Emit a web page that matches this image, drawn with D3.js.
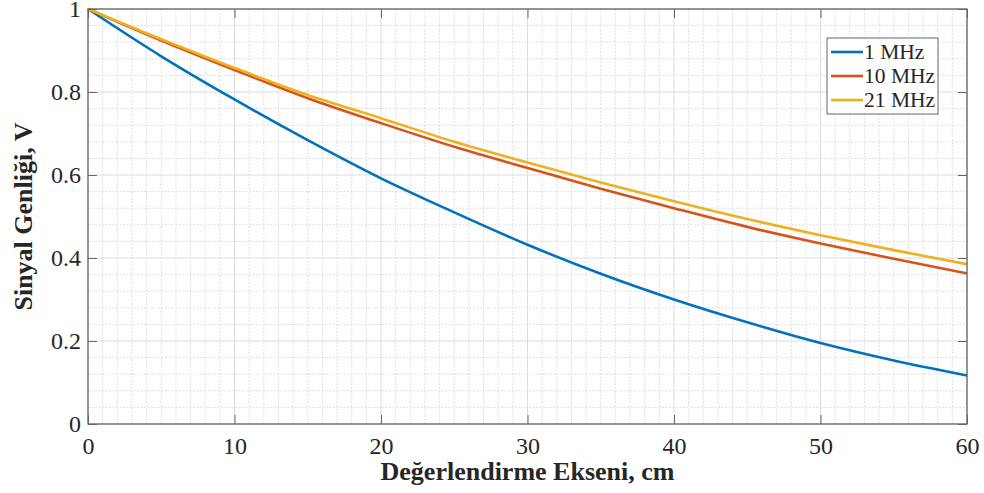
<!DOCTYPE html>
<html>
<head>
<meta charset="utf-8">
<script src="https://cdn.jsdelivr.net/npm/d3@7"></script>
<style>
  body { margin: 0; background: #fff; }
  svg text { font-family: "Liberation Serif", "Times New Roman", serif; fill: #262626; }
</style>
</head>
<body>
<div id="chart"></div>
<script>
// distance along the axis, cm
const distances = [0, 5, 10, 15, 20, 25, 30, 35, 40, 45, 50, 55, 60]
const amp1MHz  = [1.0, 0.886, 0.782, 0.684, 0.592, 0.510, 0.432, 0.362, 0.300, 0.245, 0.195, 0.153, 0.117]
const amp10MHz = [1.0, 0.924, 0.853, 0.785, 0.725, 0.668, 0.617, 0.567, 0.520, 0.475, 0.435, 0.398, 0.363]
const amp21MHz = [1.0, 0.927, 0.858, 0.793, 0.737, 0.680, 0.630, 0.582, 0.537, 0.494, 0.455, 0.419, 0.385]
const seriesNames = ['1 MHz', '10 MHz', '21 MHz']
const xTicks = [0, 10, 20, 30, 40, 50, 60]
const yTicks = [0, 0.2, 0.4, 0.6, 0.8, 1]

const colors = ['#0072BD', '#D95319', '#EDB120']
const series = [amp1MHz, amp10MHz, amp21MHz]

const W = 984, H = 493
const margin = {top: 9, right: 17, bottom: 69, left: 88}
const w = W - margin.left - margin.right,
      h = H - margin.top - margin.bottom

const svg = d3.select('#chart').append('svg')
  .attr('width', W).attr('height', H)
const g = svg.append('g')
  .attr('transform', 'translate(' + margin.left + ',' + margin.top + ')')

const x = d3.scaleLinear().domain([0, 60]).range([0, w])
const y = d3.scaleLinear().domain([0, 1]).range([h, 0])

// minor grid
const minorX = d3.range(0, 61, 1).filter(d => d % 10 !== 0)
const minorY = d3.range(0, 1.0001, 0.04).filter(d => Math.abs(d * 5 - Math.round(d * 5)) > 1e-6)
g.append('g').selectAll('line').data(minorX).enter().append('line')
  .attr('x1', d => x(d)).attr('x2', d => x(d)).attr('y1', 0).attr('y2', h)
  .attr('stroke', '#dedede').attr('stroke-width', 1).attr('stroke-dasharray', '2,1.5')
g.append('g').selectAll('line').data(minorY).enter().append('line')
  .attr('y1', d => y(d)).attr('y2', d => y(d)).attr('x1', 0).attr('x2', w)
  .attr('stroke', '#dedede').attr('stroke-width', 1).attr('stroke-dasharray', '2,1.5')

// major grid
g.append('g').selectAll('line').data(xTicks).enter().append('line')
  .attr('x1', d => x(d)).attr('x2', d => x(d)).attr('y1', 0).attr('y2', h)
  .attr('stroke', '#dcdcdc').attr('stroke-width', 1)
g.append('g').selectAll('line').data(yTicks).enter().append('line')
  .attr('y1', d => y(d)).attr('y2', d => y(d)).attr('x1', 0).attr('x2', w)
  .attr('stroke', '#dcdcdc').attr('stroke-width', 1)

// curves
const line = d3.line()
  .x((d, i) => x(distances[i]))
  .y(d => y(d))
  .curve(d3.curveMonotoneX)

series.forEach((s, i) => {
  g.append('path').datum(s)
    .attr('d', line)
    .attr('fill', 'none')
    .attr('stroke', colors[i])
    .attr('stroke-width', 2.6)
})

// axes (ticks inward, box on)
const fmt = d => d3.format('~g')(d)
const styleAxis = (sel) => {
  sel.select('.domain').remove()
  sel.selectAll('.tick line').attr('stroke', '#666')
  sel.selectAll('.tick text').style('font-size', '24px').attr('fill', '#262626')
}
g.append('g').attr('transform', 'translate(0,' + h + ')')
  .call(d3.axisBottom(x).tickValues(xTicks).tickFormat(fmt).tickSizeInner(-9).tickPadding(13))
  .call(styleAxis)
g.append('g')
  .call(d3.axisLeft(y).tickValues(yTicks).tickFormat(fmt).tickSizeInner(-9).tickPadding(7))
  .call(styleAxis)
g.append('g')
  .call(d3.axisTop(x).tickValues(xTicks).tickFormat('').tickSizeInner(-9))
  .call(styleAxis)
g.append('g').attr('transform', 'translate(' + w + ',0)')
  .call(d3.axisRight(y).tickValues(yTicks).tickFormat('').tickSizeInner(-9))
  .call(styleAxis)

g.append('rect')
  .attr('width', w).attr('height', h)
  .attr('fill', 'none').attr('stroke', '#666').attr('stroke-width', 1.3)

// axis titles
svg.append('text')
  .attr('x', margin.left + w / 2).attr('y', 480)
  .attr('text-anchor', 'middle')
  .style('font-size', '26px').style('font-weight', 'bold')
  .text('Değerlendirme Ekseni, cm')
svg.append('text')
  .attr('transform', 'translate(32,' + (margin.top + h / 2) + ') rotate(-90)')
  .attr('text-anchor', 'middle')
  .style('font-size', '26px').style('font-weight', 'bold')
  .text('Sinyal Genliği, V')

// legend
const lg = svg.append('g').attr('transform', 'translate(827,38)')
lg.append('rect').attr('width', 111).attr('height', 76)
  .attr('fill', '#fff').attr('stroke', '#666').attr('stroke-width', 1)
seriesNames.forEach((name, i) => {
  const yy = 14 + i * 24
  lg.append('line').attr('x1', 4).attr('x2', 36).attr('y1', yy).attr('y2', yy)
    .attr('stroke', colors[i]).attr('stroke-width', 2.6)
  lg.append('text').attr('x', 37).attr('y', yy + 7)
    .style('font-size', '21.5px').text(name)
})
</script>
</body>
</html>
